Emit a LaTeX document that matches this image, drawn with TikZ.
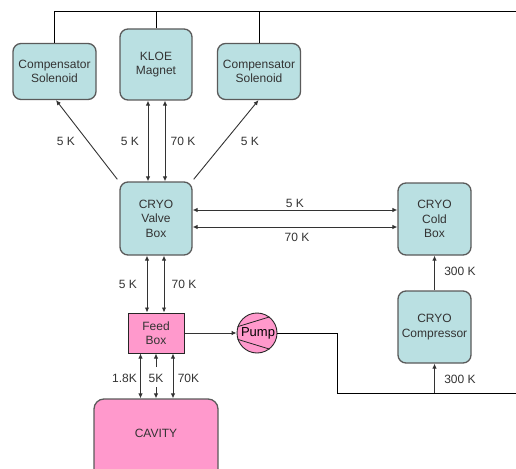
\documentclass[tikz,border=0pt]{standalone}
\usepackage{fontspec}
\setmainfont{Liberation Sans}
\usetikzlibrary{arrows.meta}
\definecolor{tealfill}{HTML}{BAE0E2}
\definecolor{boxline}{HTML}{5A5A5A}
\definecolor{pinkfill}{HTML}{FF99CC}
\definecolor{txt}{HTML}{333333}
\begin{document}
\begin{tikzpicture}[x=1pt,y=-1pt,
  every node/.style={font=\fontsize{12}{14.5}\selectfont, text=txt},
  tealbox/.style={draw=boxline, line width=1.3pt, fill=tealfill, rounded corners=8pt, align=center, inner sep=0pt},
  feedbox/.style={draw=black!85, line width=1pt, fill=pinkfill, align=center, inner sep=0pt, minimum width=56pt, minimum height=40pt},
  cavbox/.style={draw=boxline, line width=1.3pt, fill=pinkfill, rounded corners=10pt, inner sep=0pt, minimum width=124pt, minimum height=80pt},
  pumpc/.style={circle, draw=black!85, line width=0.9pt, fill=pinkfill, minimum size=40pt, inner sep=0pt},
  conn/.style={draw=black!80, line width=0.9pt},
  wire/.style={draw=black, line width=0.9pt},
  arr/.style={conn, -{Latex[length=5pt,width=4.5pt]}},
  darr/.style={conn, {Latex[length=5pt,width=4.5pt]}-{Latex[length=5pt,width=4.5pt]}},
  lbl/.style={inner sep=0pt}
]
\useasboundingbox (0,0) rectangle (516,468);
\clip (0,0) rectangle (516,468);

% boxes
\node[tealbox, minimum width=83pt, minimum height=56pt] (compL) at (54.5,71.5) {Compensator\\Solenoid};
\node[tealbox, minimum width=72pt, minimum height=71pt] (kloe) at (156,64.5) {KLOE\\Magnet};
\node[tealbox, minimum width=83pt, minimum height=56pt] (compR) at (259,71.5) {Compensator\\Solenoid};
\node[tealbox, minimum width=72pt, minimum height=73pt] (valve) at (156,218.5) {CRYO\\Valve\\Box};
\node[tealbox, minimum width=73pt, minimum height=72pt] (cold) at (434.5,219) {CRYO\\Cold\\Box};
\node[tealbox, minimum width=73pt, minimum height=72pt] (compr) at (434.5,327) {CRYO\\Compressor};
\node[feedbox] (feed) at (156,333) {Feed\\Box};
\node[pumpc] (pump) at (257,333) {};
\draw[black!85, line width=0.8pt] (pump.162) -- (pump.52);
\draw[black!85, line width=0.8pt] (pump.198) -- (pump.308);
\node[lbl, text=black, font=\fontsize{13}{15}\selectfont] (pumptxt) at (258,333) {Pump};
\node[cavbox] (cavity) at (156,439) {};
\node[lbl] (cavtxt) at (156,433) {CAVITY};

% top wire
\coordinate (topR) at (518,11);
\draw[wire] (compL.north) |- (topR);
\draw[wire] (kloe.north) -- (kloe.north |- topR);
\draw[wire] (compR.north) -- (compR.north |- topR);

% valve box to magnets
\draw[arr] ([shift={(-2pt,2pt)}]valve.north west) -- ([xshift=1.5pt]compL.south);
\draw[arr] ([shift={(1pt,2pt)}]valve.north east) -- ([xshift=-0.5pt]compR.south);
\draw[darr] ([xshift=-8pt]kloe.south) -- ([xshift=-8pt]valve.north);
\draw[darr] ([xshift=9pt]kloe.south) -- ([xshift=9pt]valve.north);
\node[lbl] (l1) at (66,141) {5 K};
\node[lbl] (l2) at (130,141) {5 K};
\node[lbl] (l3) at (183,141) {70 K};
\node[lbl] (l4) at (250,141) {5 K};

% valve box to cold box
\draw[darr] ([yshift=8.5pt]valve.east) -- ([yshift=8.5pt]valve.east -| cold.west);
\draw[darr] ([yshift=-8.5pt]valve.east) -- ([yshift=-8.5pt]valve.east -| cold.west);
\node[lbl] (l5) at (295,203) {5 K};
\node[lbl] (l6) at (297,237.5) {70 K};

% valve box to feed box
\draw[darr] ([xshift=-9pt]valve.south) -- ([xshift=-9pt]feed.north);
\draw[darr] ([xshift=8pt]valve.south) -- ([xshift=8pt]feed.north);
\node[lbl] (l7) at (128,284) {5 K};
\node[lbl] (l8) at (184,284) {70 K};

% feed box to cavity
\draw[darr] ([xshift=-15.5pt]feed.south) -- ([xshift=-15.5pt]cavity.north);
\draw[darr] ([xshift=17pt]feed.south) -- ([xshift=17pt]cavity.north);
\coordinate (f5a) at (156,367);
\coordinate (f5b) at (156,387);
\draw[arr] (f5a) -- (feed.south);
\draw[arr] (f5b) -- (cavity.north);
\node[lbl] (l9) at (124.5,378) {1.8K};
\node[lbl] (l10) at (156,378) {5K};
\node[lbl] (l11) at (188.5,378) {70K};

% feed to pump
\draw[arr] (feed.east |- pump.west) -- (pump.west);

% pump out to compressor
\coordinate (p1) at (337,393);
\coordinate (outR) at (518,393);
\draw[wire] (pump.east) -| (p1) -- (outR);
\draw[arr] (compr.south |- outR) -- (compr.south);
\draw[arr] (compr.north) -- (cold.south);
\node[lbl] (l12) at (460,271) {300 K};
\node[lbl] (l13) at (460,379.5) {300 K};
\end{tikzpicture}
\end{document}
